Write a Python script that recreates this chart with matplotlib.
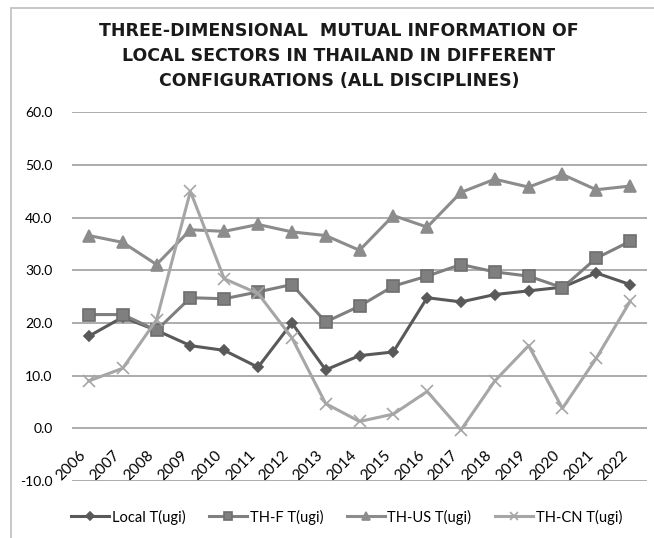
import matplotlib.pyplot as plt
from matplotlib.patches import Rectangle

plt.rcParams['font.family'] = ['Lato', 'DejaVu Sans']

years = [str(y) for y in range(2006, 2023)]

local_t = [17.5, 21.1, 18.6, 15.7, 14.8, 11.6, 20.0, 11.1, 13.8, 14.5, 24.8, 24.0, 25.4, 26.1, 26.8, 29.5, 27.3]
th_f_t = [21.6, 21.6, 18.6, 24.8, 24.6, 25.9, 27.3, 20.2, 23.2, 27.0, 28.9, 31.1, 29.7, 28.9, 26.7, 32.3, 35.5]
th_us_t = [36.6, 35.3, 31.1, 37.7, 37.4, 38.7, 37.3, 36.6, 33.8, 40.4, 38.2, 44.8, 47.3, 45.8, 48.2, 45.3, 46.0]
th_cn_t = [9.0, 11.4, 20.6, 45.0, 28.4, 25.6, 17.2, 4.7, 1.3, 2.7, 7.0, -0.3, 9.0, 15.7, 3.8, 13.3, 24.1]

series = [
    ("Local T(ugi)", local_t, '#595959', 'D', 5),
    ("TH-F T(ugi)", th_f_t, '#7f7f7f', 's', 8),
    ("TH-US T(ugi)", th_us_t, '#8c8c8c', '^', 8),
    ("TH-CN T(ugi)", th_cn_t, '#a6a6a6', 'x', 8),
]

fig = plt.figure(figsize=(6.54, 5.38), dpi=100)

# outer chart frame
fig.patches.append(Rectangle((11 / 654, -0.1), 1.2, 1.1 - 8 / 538, transform=fig.transFigure,
                             fill=False, edgecolor='#bfbfbf', linewidth=1.2))

ax = fig.add_axes([72 / 654, 57 / 538, 575 / 654, 368.7 / 538])

x = list(range(len(years)))
for name, vals, color, marker, ms in series:
    edge = '#6e6e6e' if marker == 's' else color
    ax.plot(x, vals, color=color, linewidth=2.2, marker=marker, markersize=ms,
            markerfacecolor=color, markeredgecolor=edge, markeredgewidth=1.2, label=name)

ax.set_xlim(-0.5, len(years) - 0.5)
ax.set_ylim(-10, 60)
ax.set_yticks(range(-10, 61, 10))
ax.set_yticklabels([f"{v:.1f}" for v in range(-10, 61, 10)])
ax.yaxis.grid(True, color='#a6a6a6', linewidth=1.3)
ax.set_axisbelow(True)

# category axis crosses at zero
ax.spines['bottom'].set_position(('data', 0))
for s in ['top', 'right', 'left', 'bottom']:
    ax.spines[s].set_visible(False)
ax.set_xticks(x)
ax.set_xticklabels(years, rotation=45, ha='right', va='top')
ax.tick_params(axis='x', length=0, pad=14, labelsize=11)
ax.tick_params(axis='y', length=0, pad=14, labelsize=10)

fig.text(0.518, 1 - 22 / 538,
         "THREE-DIMENSIONAL  MUTUAL INFORMATION OF\nLOCAL SECTORS IN THAILAND IN DIFFERENT\nCONFIGURATIONS (ALL DISCIPLINES)",
         ha='center', va='top', fontsize=12.5, fontweight='bold', linespacing=1.5,
         color='#1a1a1a', family=['DejaVu Sans'])

fig.legend(loc='center', bbox_to_anchor=(0.53, 1 - 517 / 538), ncol=4, frameon=False,
           fontsize=10.5, handlelength=2.6, handletextpad=0.2, columnspacing=1.6, markerscale=0.8)

fig.savefig('out.png', dpi=100)
